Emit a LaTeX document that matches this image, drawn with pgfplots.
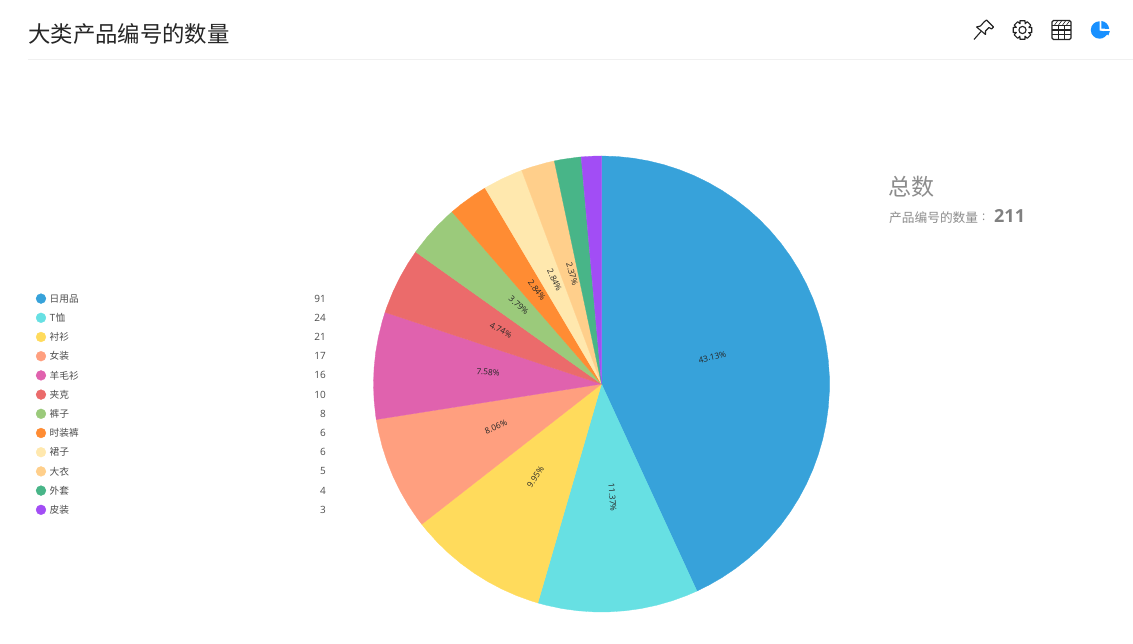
\documentclass[border=0pt]{standalone}
\usepackage{pgfplots}
\usepackage{fontspec}
\pgfplotsset{compat=1.18}
\usepgfplotslibrary{polar}
\setmainfont{Noto Sans CJK SC}
\newfontfamily\latin{Open Sans}
\definecolor{c1}{HTML}{37A2DA}
\definecolor{c2}{HTML}{67E0E3}
\definecolor{c3}{HTML}{FFDB5C}
\definecolor{c4}{HTML}{FF9F7F}
\definecolor{c5}{HTML}{E062AE}
\definecolor{c6}{HTML}{EB6B6B}
\definecolor{c7}{HTML}{9BCA7B}
\definecolor{c8}{HTML}{FF8C33}
\definecolor{c9}{HTML}{FFE8AE}
\definecolor{c10}{HTML}{FFCF8B}
\definecolor{c11}{HTML}{48B588}
\definecolor{c12}{HTML}{A24DF5}
\definecolor{icon}{HTML}{222222}
\definecolor{pi}{HTML}{1890FF}
\newcommand{\leg}[3]{%
  \addplot[only marks, mark=*, mark size=4.9pt, mark options={draw=#1, fill=#1}] coordinates {(41,#2)};
  \node[anchor=west, font=\fontsize{9.7}{10}\selectfont, text=black!70, inner sep=0pt] at (axis cs:49.5,#2) {#3};
}
\newcommand{\cnt}[2]{\node[anchor=east, font=\latin\fontsize{10}{10}\selectfont, text=black!70, inner sep=0pt] at (axis cs:326,#1) {#2};}
\newcommand{\pct}[3]{\node[rotate=#2, yshift=2.5pt, font=\latin\fontsize{8.3}{9}\selectfont, text=black!85, inner sep=0pt] at (axis cs:#1,114) {#3};}
\begin{document}
\begin{tikzpicture}[x=1pt,y=1pt]
\path[use as bounding box] (0,0) rectangle (1133,643);
\begin{axis}[at={(0,0)}, anchor=south west, scale only axis, width=1133pt, height=643pt,
  xmin=0, xmax=1133, ymin=0, ymax=643, y dir=reverse, hide axis, clip=false]
\addplot[draw=black!6, line width=0.8pt] coordinates {(28,59.5) (1133,59.5)};
\node[anchor=west, font=\fontsize{22.4}{24}\selectfont, text=black!85, inner sep=0pt] at (axis cs:28,33.5) {大类产品编号的数量};
\node[anchor=west, font=\fontsize{23}{24}\selectfont, text=black!45, inner sep=0pt] at (axis cs:888.5,187) {总数};
\node[anchor=west, font=\fontsize{12.7}{13}\selectfont, text=black!45, inner sep=0pt] at (axis cs:889,218) {产品编号的数量};
\node[anchor=west, font=\latin\fontsize{12}{13}\selectfont, text=black!45, inner sep=0pt] at (axis cs:982,217.5) {:};
\node[anchor=west, font=\latin\bfseries\fontsize{18}{19}\selectfont, text=black!50, inner sep=0pt] at (axis cs:994,216) {211};
\leg{c1}{298.6}{日用品}\cnt{298.6}{91}
\leg{c2}{317.8}{T恤}\cnt{317.8}{24}
\leg{c3}{337}{衬衫}\cnt{337}{21}
\leg{c4}{356.2}{女装}\cnt{356.2}{17}
\leg{c5}{375.4}{羊毛衫}\cnt{375.4}{16}
\leg{c6}{394.6}{夹克}\cnt{394.6}{10}
\leg{c7}{413.8}{裤子}\cnt{413.8}{8}
\leg{c8}{433}{时装裤}\cnt{433}{6}
\leg{c9}{452.2}{裙子}\cnt{452.2}{6}
\leg{c10}{471.4}{大衣}\cnt{471.4}{5}
\leg{c11}{490.6}{外套}\cnt{490.6}{4}
\leg{c12}{509.8}{皮装}\cnt{509.8}{3}
\end{axis}
\begin{polaraxis}[at={(601.5,259)}, anchor=center, scale only axis, width=456pt, height=456pt,
  xmin=0, xmax=360, ymin=0, ymax=228, hide axis, clip=false]
\addplot[fill=c1, draw=c1, line width=0.3pt] coordinates {(90,0)(90,228)(86,228)(82,228)(78,228)(74,228)(70,228)(66,228)(62,228)(58,228)(54,228)(50,228)(46,228)(42,228)(38,228)(34,228)(30,228)(26,228)(22,228)(18,228)(14,228)(10,228)(6,228)(2,228)(-2,228)(-6,228)(-10,228)(-14,228)(-18,228)(-22,228)(-26,228)(-30,228)(-34,228)(-38,228)(-42,228)(-46,228)(-50,228)(-54,228)(-58,228)(-62,228)(-65.26,228)} -- cycle;
\addplot[fill=c2, draw=c2, line width=0.3pt] coordinates {(-65.26,0)(-65.26,228)(-68,228)(-72,228)(-76,228)(-80,228)(-84,228)(-88,228)(-92,228)(-96,228)(-100,228)(-104,228)(-106.21,228)} -- cycle;
\addplot[fill=c3, draw=c3, line width=0.3pt] coordinates {(-106.21,0)(-106.21,228)(-108,228)(-112,228)(-116,228)(-120,228)(-124,228)(-128,228)(-132,228)(-136,228)(-140,228)(-142.04,228)} -- cycle;
\addplot[fill=c4, draw=c4, line width=0.3pt] coordinates {(-142.04,0)(-142.04,228)(-144,228)(-148,228)(-152,228)(-156,228)(-160,228)(-164,228)(-168,228)(-171.04,228)} -- cycle;
\addplot[fill=c5, draw=c5, line width=0.3pt] coordinates {(-171.04,0)(-171.04,228)(-172,228)(-176,228)(-180,228)(-184,228)(-188,228)(-192,228)(-196,228)(-198.34,228)} -- cycle;
\addplot[fill=c6, draw=c6, line width=0.3pt] coordinates {(-198.34,0)(-198.34,228)(-200,228)(-204,228)(-208,228)(-212,228)(-215.40,228)} -- cycle;
\addplot[fill=c7, draw=c7, line width=0.3pt] coordinates {(-215.40,0)(-215.40,228)(-216,228)(-220,228)(-224,228)(-228,228)(-229.05,228)} -- cycle;
\addplot[fill=c8, draw=c8, line width=0.3pt] coordinates {(-229.05,0)(-229.05,228)(-232,228)(-236,228)(-239.29,228)} -- cycle;
\addplot[fill=c9, draw=c9, line width=0.3pt] coordinates {(-239.29,0)(-239.29,228)(-240,228)(-244,228)(-248,228)(-249.53,228)} -- cycle;
\addplot[fill=c10, draw=c10, line width=0.3pt] coordinates {(-249.53,0)(-249.53,228)(-252,228)(-256,228)(-258.06,228)} -- cycle;
\addplot[fill=c11, draw=c11, line width=0.3pt] coordinates {(-258.06,0)(-258.06,228)(-260,228)(-264,228)(-264.88,228)} -- cycle;
\addplot[fill=c12, draw=c12, line width=0.3pt] coordinates {(-264.88,0)(-264.88,228)(-268,228)(-270,228)} -- cycle;
\pct{12.37}{12.37}{43.13\%}
\pct{-85.735}{-85.7}{11.37\%}
\pct{-124.1}{55.9}{9.95\%}
\pct{-156.54}{23.46}{8.06\%}
\pct{-184.69}{-4.69}{7.58\%}
\pct{-206.87}{-26.87}{4.74\%}
\pct{-222.2}{-42.2}{3.79\%}
\pct{-234.2}{-54.2}{2.84\%}
\pct{-244.4}{-64.4}{2.84\%}
\pct{-253.8}{-73.8}{2.37\%}
\end{polaraxis}
% toolbar icons (page coordinates: x, 643 - y)
\begin{scope}[shift={(984,613)}, draw=icon, line width=1.1pt, line join=round]
  \draw (0,8) -- (2.5,10) -- (9.5,3) -- (7.5,1) -- (5,2.5) -- (1.5,-1) -- (1.5,-4.5) -- (-7.5,3) -- (-3.5,4) -- cycle;
  \draw (-3,-1.5) -- (-10,-9.5);
\end{scope}
\begin{scope}[shift={(1022.5,613)}, draw=icon, line width=1.1pt, line join=round]
  \draw (0,0) circle (3.6);
  \draw (22:6.7)
    \foreach \a in {0,45,...,315} { -- (\a+22:6.7) -- (\a+30:9.6) -- (\a+60:9.6) -- (\a+67:6.7) };
\end{scope}
\begin{scope}[shift={(1061.5,613)}, draw=icon, line width=1.1pt]
  \draw[rounded corners=1.5pt] (-9.5,-9.5) rectangle (9.5,9.5);
  \draw (-9.5,4.5) -- (9.5,4.5) (-9.5,0) -- (9.5,0) (-9.5,-4.8) -- (9.5,-4.8);
  \draw (-3.2,-9.5) -- (-3.2,4.5) (3.2,-9.5) -- (3.2,4.5);
  \foreach \x in {-7,-3,1,5} \draw[line width=0.6pt] (\x,5) -- (\x+3,9);
\end{scope}
\begin{scope}[shift={(1100,613)}]
  \fill[pi] (-0.5,-0.5) -- (-0.5,8.7) arc (90:345:8.7) -- cycle;
  \fill[pi] (1.3,1.3) -- (1.3,9) arc (85:5:8.6) -- cycle;
  \fill[pi] (3,-1.2) -- (9.8,-1.2) arc (-5:-32:9.6) -- cycle;
\end{scope}
\end{tikzpicture}
\end{document}
